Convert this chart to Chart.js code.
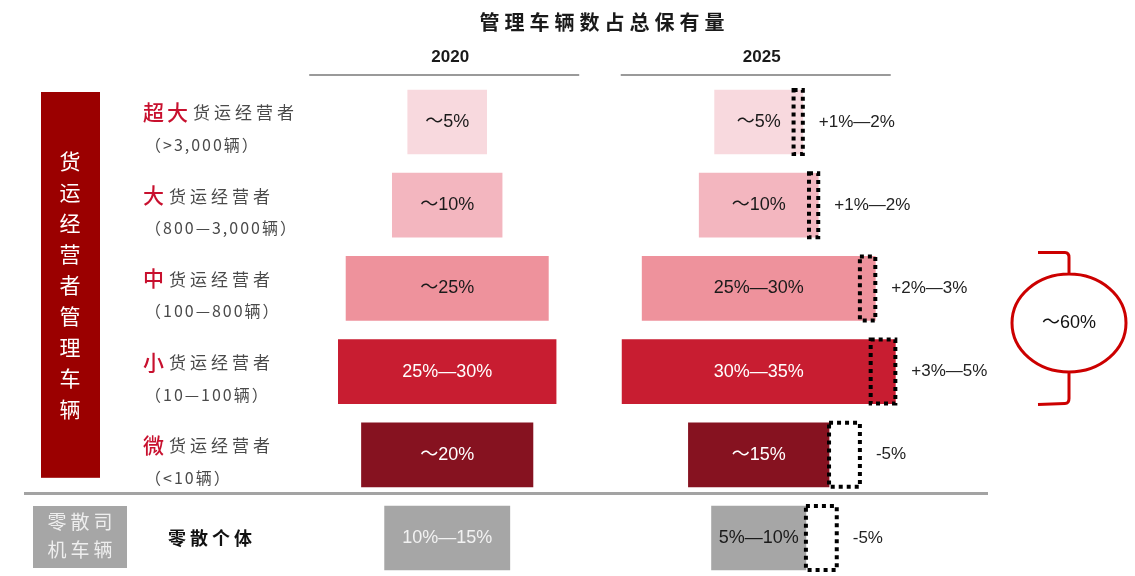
<!DOCTYPE html>
<html lang="zh">
<head>
<meta charset="utf-8">
<title>管理车辆数占总保有量</title>
<script src="https://cdn.jsdelivr.net/npm/chart.js@4"></script>
<style>
  html, body { margin: 0; padding: 0; background: #fff; }
  #wrap { width: 1135px; height: 576px; position: relative; }
</style>
</head>
<body>
<div id="wrap"><canvas id="chart"></canvas></div>
<script>
/* Fleet-size tiers top to bottom, then independent owner-drivers.
   Each row: a centered 2020 bar, a 2025 bar and a dotted box for the change. */
const tierPrefix = ['超大', '大', '中', '小', '微', ''];
const tierName = ['货运经营者', '货运经营者', '货运经营者', '货运经营者', '货运经营者', '零散个体'];
const tierRange = ['（>3,000辆）', '（800—3,000辆）', '（100—800辆）', '（10—100辆）', '（<10辆）', ''];

// share of total vehicle stock, low / high end of each range (%)
const share2020Low = [5, 10, 25, 25, 20, 10];
const share2020High = [5, 10, 25, 30, 20, 15];
const share2025Low = [5, 10, 25, 30, 15, 5];
const share2025High = [5, 10, 30, 35, 15, 10];
// change in share by 2025 (percentage points)
const changeLow = [1, 1, 2, 3, -5, -5];
const changeHigh = [2, 2, 3, 5, -5, -5];

const tierColors = ['#f8d9de', '#f3b6bf', '#ee929c', '#c81d31', '#861220', '#a6a6a6'];
const ink2020 = ['#1a1a1a', '#1a1a1a', '#1a1a1a', '#ffffff', '#ffffff', '#f2f2f2'];
const ink2025 = ['#1a1a1a', '#1a1a1a', '#1a1a1a', '#ffffff', '#ffffff', '#1a1a1a'];

const SANS = '"Liberation Sans", "Noto Sans CJK SC", sans-serif';
const CJK = '"Noto Sans CJK SC", sans-serif';

// x axis is in share points; PAD gives small shares room for their label
const X_MAX = 184;
const PAD = 7.8;
const MID_2020 = 72.5;
const MID_2025 = 123;

const mid = (lo, hi) => (lo + hi) / 2;
const rangeText = (lo, hi) => lo === hi ? `～${lo}%` : `${lo}%—${hi}%`;
const changeText = (lo, hi) => lo === hi ? `${lo > 0 ? '+' : '-'}${Math.abs(lo)}%` : `${lo > 0 ? '+' : ''}${lo}%—${hi}%`;

const bars2020 = share2020Low.map((lo, i) => {
    const w = mid(lo, share2020High[i]) + PAD;
    return [MID_2020 - w / 2, MID_2020 + w / 2];
});

// growing tiers: the whole 2025 extent (base + gain) is centered;
// shrinking tiers: the 2025 bar is centered and the lost share hangs off the right
const bars2025 = [];
const changeBoxes = [];
share2025Low.forEach((lo, i) => {
    const base = mid(lo, share2025High[i]) + PAD;
    const d = mid(changeLow[i], changeHigh[i]);
    const start = MID_2025 - (base + Math.max(d, 0)) / 2;
    bars2025.push([start, start + base]);
    changeBoxes.push([start + base, start + base + Math.abs(d)]);
});

function spacedText(ctx, text, x, y, gap, align) {
    const chars = [...text];
    const widths = chars.map(c => ctx.measureText(c).width);
    const total = widths.reduce((a, b) => a + b, 0) + gap * (chars.length - 1);
    let cx = align === 'center' ? x - total / 2 : x;
    ctx.textAlign = 'left';
    chars.forEach((c, i) => { ctx.fillText(c, cx, y); cx += widths[i] + gap; });
    return cx;
}

const decorations = {
    id: 'decorations',
    beforeDatasetsDraw(chart) {
        const { ctx, scales: { x, y } } = chart;
        const rowY = i => y.getPixelForValue(i);
        ctx.save();
        ctx.textBaseline = 'middle';

        // title
        ctx.fillStyle = '#1a1a1a';
        ctx.font = `bold 20px ${CJK}`;
        spacedText(ctx, '管理车辆数占总保有量', 602, 22, 5, 'center');

        // year headers with rules
        [[MID_2020, '2020'], [MID_2025, '2025']].forEach(([m, label]) => {
            const cx = x.getPixelForValue(m);
            ctx.font = `bold 17px ${SANS}`;
            ctx.textAlign = 'center';
            ctx.fillStyle = '#1a1a1a';
            ctx.fillText(label, cx + 3, 57);
            ctx.strokeStyle = '#9a9a9a';
            ctx.lineWidth = 2;
            ctx.beginPath();
            ctx.moveTo(cx - 138, 75);
            ctx.lineTo(cx + 132, 75);
            ctx.stroke();
        });

        // operator-managed block
        const boxTop = rowY(0) - 30, boxBottom = rowY(4) + 23;
        ctx.fillStyle = '#9b0000';
        ctx.fillRect(41, boxTop, 59, boxBottom - boxTop);
        ctx.fillStyle = '#ffffff';
        ctx.font = `21px ${CJK}`;
        ctx.textAlign = 'center';
        const side = [...'货运经营者管理车辆'];
        const sideMid = (boxTop + boxBottom) / 2;
        side.forEach((c, k) => ctx.fillText(c, 70, sideMid + (k - (side.length - 1) / 2) * 31));

        // independent drivers block
        const y5 = rowY(5);
        ctx.fillStyle = '#a6a6a6';
        ctx.fillRect(33, y5 - 32, 94, 62);
        ctx.fillStyle = '#eeeeee';
        ctx.font = `19px ${CJK}`;
        spacedText(ctx, '零散司', 80, y5 - 16, 4, 'center');
        spacedText(ctx, '机车辆', 80, y5 + 12, 4, 'center');

        // separator between the two groups
        ctx.strokeStyle = '#a3a3a3';
        ctx.lineWidth = 3;
        const sepY = (rowY(4) + rowY(5)) / 2 - 3;
        ctx.beginPath();
        ctx.moveTo(24, sepY);
        ctx.lineTo(988, sepY);
        ctx.stroke();

        // tier names
        tierName.forEach((name, i) => {
            const ry = rowY(i);
            if (!tierPrefix[i]) {
                ctx.fillStyle = '#111111';
                ctx.font = `bold 18px ${CJK}`;
                spacedText(ctx, name, 168, ry, 4);
                return;
            }
            ctx.fillStyle = '#c8102e';
            ctx.font = `500 21px ${CJK}`;
            const end = spacedText(ctx, tierPrefix[i], 143, ry - 10, 3);
            ctx.fillStyle = '#4a4a4a';
            ctx.font = `17px ${CJK}`;
            spacedText(ctx, name, end + 2, ry - 9, 4);
            ctx.font = `16px ${CJK}`;
            spacedText(ctx, tierRange[i], 145, ry + 23, 2);
        });
        ctx.restore();
    },
    afterDatasetsDraw(chart) {
        const { ctx, scales: { x, y } } = chart;
        ctx.save();

        // dotted outline on the change boxes
        const changeMeta = chart.getDatasetMeta(2);
        ctx.strokeStyle = '#000000';
        ctx.lineWidth = 4;
        ctx.setLineDash([4, 4]);
        changeMeta.data.forEach(bar => {
            const { x: bx, base, y: by, height } = bar.getProps(['x', 'base', 'y', 'height'], true);
            const left = Math.min(bx, base), right = Math.max(bx, base);
            ctx.strokeRect(left, by - height / 2, right - left, height);
        });
        ctx.setLineDash([]);

        // value labels
        ctx.textBaseline = 'middle';
        ctx.textAlign = 'center';
        ctx.font = `18px ${SANS}`;
        chart.getDatasetMeta(0).data.forEach((bar, i) => {
            const { x: bx, base, y: by } = bar.getProps(['x', 'base', 'y'], true);
            ctx.fillStyle = ink2020[i];
            ctx.fillText(rangeText(share2020Low[i], share2020High[i]), (bx + base) / 2, by);
        });
        const c25 = x.getPixelForValue(MID_2025);
        chart.getDatasetMeta(1).data.forEach((bar, i) => {
            ctx.fillStyle = ink2025[i];
            ctx.fillText(rangeText(share2025Low[i], share2025High[i]), c25, bar.getProps(['y'], true).y);
        });

        // change labels to the right of each dotted box
        ctx.textAlign = 'left';
        ctx.font = `17px ${SANS}`;
        ctx.fillStyle = '#222222';
        changeMeta.data.forEach((bar, i) => {
            const { x: bx, base, y: by } = bar.getProps(['x', 'base', 'y'], true);
            ctx.fillText(changeText(changeLow[i], changeHigh[i]), Math.max(bx, base) + 16, by);
        });

        // brace around mid + small tiers
        const top = y.getPixelForValue(2) - 36;
        const bottom = y.getPixelForValue(3) + 32;
        const cy = (top + bottom) / 2 - 5;
        const cx = 1069, rx = 57, ry = 49;
        ctx.strokeStyle = '#cc0000';
        ctx.lineWidth = 3;
        ctx.beginPath();
        ctx.ellipse(cx, cy, rx, ry, 0, 0, Math.PI * 2);
        ctx.moveTo(1038, top);
        ctx.lineTo(cx - 4, top);
        ctx.quadraticCurveTo(cx, top, cx, top + 5);
        ctx.lineTo(cx, cy - ry);
        ctx.moveTo(cx, cy + ry);
        ctx.lineTo(cx, bottom - 5);
        ctx.quadraticCurveTo(cx, bottom, cx - 4, bottom);
        ctx.lineTo(1038, bottom + 1);
        ctx.stroke();
        ctx.fillStyle = '#111111';
        ctx.font = `18px ${SANS}`;
        ctx.textAlign = 'center';
        ctx.fillText('～60%', cx, cy);
        ctx.restore();
    }
};

const barStyle = { grouped: false, barThickness: 64, borderWidth: 0, borderSkipped: false, clip: false };

new Chart(document.getElementById('chart'), {
    type: 'bar',
    data: {
        labels: tierName.map((n, i) => tierPrefix[i] + n),
        datasets: [
            { label: '2020', data: bars2020, backgroundColor: tierColors, ...barStyle },
            { label: '2025', data: bars2025, backgroundColor: tierColors, ...barStyle },
            {
                label: '变化',
                data: changeBoxes,
                backgroundColor: changeLow.map((d, i) => d > 0 ? tierColors[i] : '#ffffff'),
                ...barStyle
            }
        ]
    },
    options: {
        indexAxis: 'y',
        responsive: true,
        maintainAspectRatio: false,
        animation: false,
        layout: { padding: { top: 122, bottom: 38, left: 0, right: 0 } },
        scales: {
            x: { type: 'linear', min: 0, max: X_MAX, display: false },
            y: { type: 'category', offset: false, display: false }
        },
        plugins: { legend: { display: false }, tooltip: { enabled: false } }
    },
    plugins: [decorations]
});
</script>
</body>
</html>
